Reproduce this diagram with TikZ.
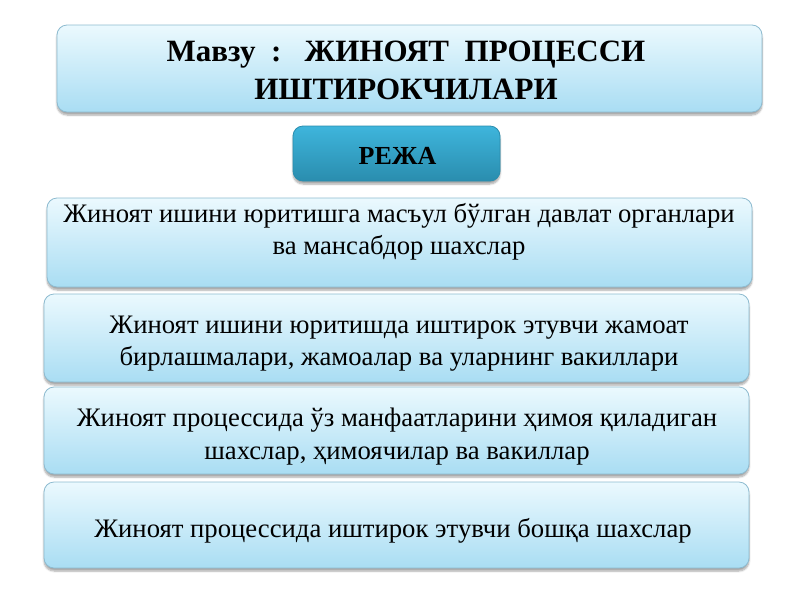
\documentclass[tikz,border=0pt]{standalone}
\usepackage{fontspec}
\setmainfont{Liberation Serif}
\usetikzlibrary{shadows.blur}
\definecolor{boxtop}{HTML}{EBF9FE}
\definecolor{boxbot}{HTML}{A9DDF3}
\definecolor{boxline}{HTML}{8DBBD0}
\definecolor{plantop}{HTML}{3EB5DC}
\definecolor{planbot}{HTML}{2A8DAE}
\begin{document}
\begin{tikzpicture}[x=1pt, y=1pt,
    box/.style={draw=boxline, line width=0.8pt, rounded corners=10pt, top color=boxtop, bottom color=boxbot,
      blur shadow={shadow xshift=0pt, shadow yshift=-3pt, shadow opacity=35, shadow blur steps=6},
      minimum width=705pt, minimum height=88pt, inner sep=0pt},
    plan/.style={box, draw=planbot, top color=plantop, bottom color=planbot,
      minimum width=207pt, minimum height=55pt},
    txt/.style={anchor=base, align=center, inner sep=0pt, font=\fontsize{26.7}{32.5}\selectfont}]
  \useasboundingbox (0,0) rectangle (800,-600);
  % title and plan (base = last line)
  \node[box, minimum height=87pt] (theme) at (409.5,-68.5) {};
  \node[txt, font=\fontsize{31}{38}\selectfont\bfseries] (themetext) at (406,-99)
    {Мавзу~~:~~~ЖИНОЯТ~~ПРОЦЕССИ\\ИШТИРОКЧИЛАРИ};
  \node[plan] (reja) at (396.5,-153.5) {};
  \node[txt, font=\fontsize{26}{30}\selectfont\bfseries] (rejatext) at (397.5,-164) {РЕЖА};
  % items
  \node[box, minimum height=89pt] (item1) at (399.5,-242.5) {};
  \node[txt] (text1) at (399,-254.5)
    {Жиноят ишини юритишга масъул бўлган давлат органлари\\ва мансабдор шахслар};
  \node[box] (item2) at (396.5,-338) {};
  \node[txt] (text2) at (399,-365.5)
    {Жиноят ишини юритишда иштирок этувчи жамоат\\бирлашмалари, жамоалар ва уларнинг вакиллари};
  \node[box, minimum height=87pt] (item3) at (396.5,-430.5) {};
  \node[txt] (text3) at (397,-459)
    {Жиноят процессида ўз манфаатларини ҳимоя қиладиган\\шахслар, ҳимоячилар ва вакиллар};
  \node[box, minimum height=86pt] (item4) at (396.5,-525) {};
  \node[txt] (text4) at (393,-537)
    {Жиноят процессида иштирок этувчи бошқа шахслар};
\end{tikzpicture}
\end{document}
